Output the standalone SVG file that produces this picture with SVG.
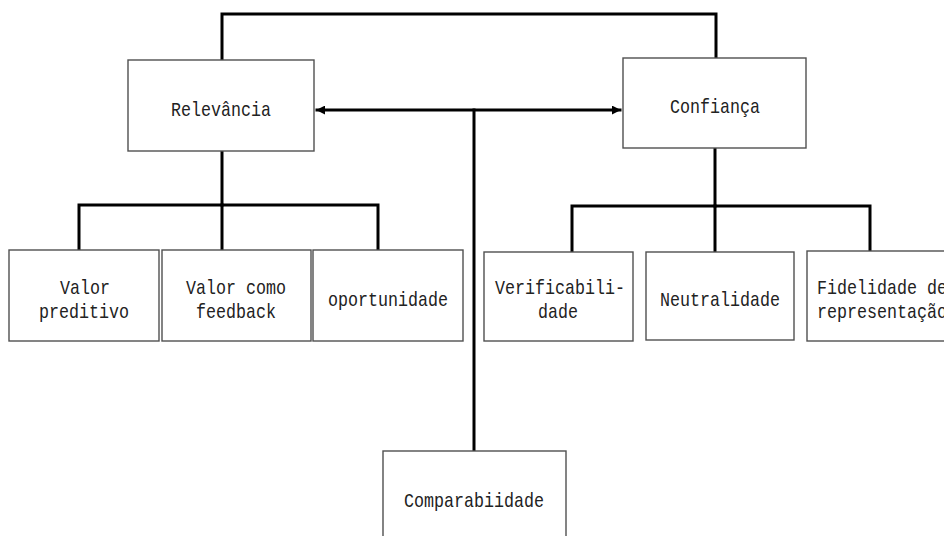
<svg xmlns="http://www.w3.org/2000/svg" width="944" height="536" viewBox="0 0 944 536">
  <style>
    .box { fill: #ffffff; stroke: #505050; stroke-width: 1.4; }
    .wire { fill: none; stroke: #000000; stroke-width: 3; stroke-linecap: square; }
    .lbl { font-family: "Liberation Mono", "DejaVu Sans Mono", monospace; font-size: 21px; fill: #222222; text-anchor: middle; }
  </style>
  <defs>
    <marker id="tip" viewBox="0 0 10 10" refX="9" refY="5" markerWidth="3" markerHeight="3" orient="auto-start-reverse" markerUnits="strokeWidth">
      <path d="M0 0 L10 5 L0 10 Z" fill="#000000"/>
    </marker>
  </defs>
  <rect width="944" height="536" fill="#ffffff"/>

  <!-- connectors -->
  <g id="connectors">
    <path class="wire" d="M222 60 V14 H716 V58"/>
    <path class="wire" d="M317 110 H620" marker-start="url(#tip)" marker-end="url(#tip)" stroke-linecap="butt"/>
    <path class="wire" d="M474 110 V451"/>
    <path class="wire" d="M222 151 V205"/>
    <path class="wire" d="M79 250 V205 H378 V250"/>
    <path class="wire" d="M222 205 V250"/>
    <path class="wire" d="M715 148 V206"/>
    <path class="wire" d="M572 252 V206 H870 V250"/>
    <path class="wire" d="M715 206 V252"/>
  </g>

  <!-- top level -->
  <g id="relevancia">
    <rect class="box" x="128" y="60" width="186" height="91"/>
    <text class="lbl" x="221" y="116" textLength="100" lengthAdjust="spacingAndGlyphs">Relevância</text>
  </g>
  <g id="confianca">
    <rect class="box" x="623" y="58" width="183" height="90"/>
    <text class="lbl" x="715" y="113" textLength="90" lengthAdjust="spacingAndGlyphs">Confiança</text>
  </g>

  <!-- relevance branch -->
  <g id="valor-preditivo">
    <rect class="box" x="9" y="250" width="150" height="91"/>
    <text class="lbl" x="85" y="294" textLength="50" lengthAdjust="spacingAndGlyphs">Valor</text>
    <text class="lbl" x="84" y="318" textLength="90" lengthAdjust="spacingAndGlyphs">preditivo</text>
  </g>
  <g id="valor-feedback">
    <rect class="box" x="162" y="250" width="149" height="91"/>
    <text class="lbl" x="236" y="294" textLength="100" lengthAdjust="spacingAndGlyphs">Valor como</text>
    <text class="lbl" x="236" y="318" textLength="80" lengthAdjust="spacingAndGlyphs">feedback</text>
  </g>
  <g id="oportunidade">
    <rect class="box" x="313" y="250" width="150" height="91"/>
    <text class="lbl" x="388" y="306" textLength="120" lengthAdjust="spacingAndGlyphs">oportunidade</text>
  </g>

  <!-- reliability branch -->
  <g id="verificabilidade">
    <rect class="box" x="484" y="252" width="149" height="89"/>
    <text class="lbl" x="560" y="294" textLength="130" lengthAdjust="spacingAndGlyphs">Verificabili-</text>
    <text class="lbl" x="558" y="318" textLength="40" lengthAdjust="spacingAndGlyphs">dade</text>
  </g>
  <g id="neutralidade">
    <rect class="box" x="646" y="252" width="148" height="88"/>
    <text class="lbl" x="720" y="306" textLength="120" lengthAdjust="spacingAndGlyphs">Neutralidade</text>
  </g>
  <g id="fidelidade">
    <rect class="box" x="807" y="251" width="150" height="90"/>
    <text class="lbl" x="882" y="294" textLength="130" lengthAdjust="spacingAndGlyphs">Fidelidade de</text>
    <text class="lbl" x="882" y="318" textLength="130" lengthAdjust="spacingAndGlyphs">representação</text>
  </g>

  <!-- comparability -->
  <g id="comparabilidade">
    <rect class="box" x="383" y="451" width="183" height="100"/>
    <text class="lbl" x="474" y="507" textLength="140" lengthAdjust="spacingAndGlyphs">Comparabiidade</text>
  </g>
</svg>
